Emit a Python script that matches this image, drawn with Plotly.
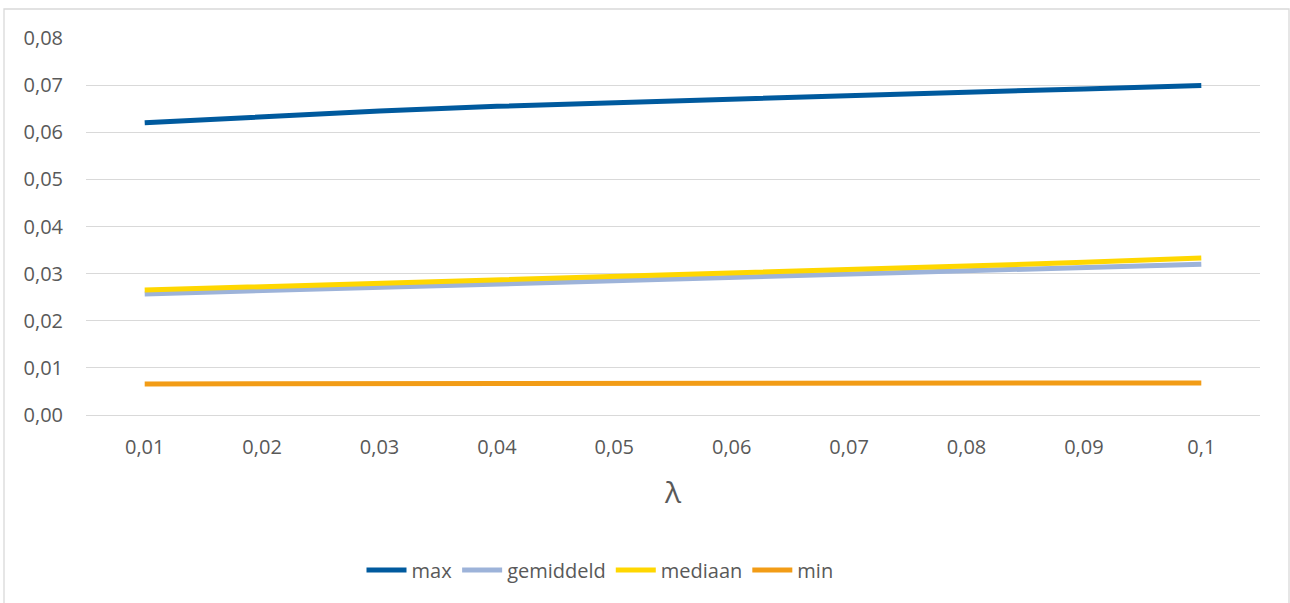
import plotly.graph_objects as go

# lambda values on the category axis
lambda_labels = ["0,01", "0,02", "0,03", "0,04", "0,05", "0,06", "0,07", "0,08", "0,09", "0,1"]

max_vals = [0.0620, 0.0633, 0.0645, 0.0655, 0.0663, 0.0671, 0.0678, 0.0685, 0.0692, 0.0699]
gemiddeld_vals = [0.0257, 0.0264, 0.0271, 0.0278, 0.0285, 0.0292, 0.0299, 0.0306, 0.0313, 0.0320]
mediaan_vals = [0.0265, 0.0272, 0.0279, 0.0287, 0.0294, 0.0301, 0.0309, 0.0316, 0.0324, 0.0333]
min_vals = [0.0066, 0.0066, 0.0066, 0.0067, 0.0067, 0.0067, 0.0067, 0.0067, 0.0068, 0.0068]

y_ticks = [0.00, 0.01, 0.02, 0.03, 0.04, 0.05, 0.06, 0.07, 0.08]
y_ticktext = ["0,00", "0,01", "0,02", "0,03", "0,04", "0,05", "0,06", "0,07", "0,08"]

series = [
    ("max", max_vals, "#005A9E"),
    ("gemiddeld", gemiddeld_vals, "#9DB3D9"),
    ("mediaan", mediaan_vals, "#FFD700"),
    ("min", min_vals, "#F29C16"),
]

FONT = "Open Sans"
TXT = "#595959"

fig = go.Figure()
for name, vals, color in series:
    fig.add_trace(go.Scatter(
        x=lambda_labels, y=vals, name=name, mode="lines",
        line=dict(color=color, width=5),
    ))

W, H = 1290, 603
L, R, T, B = 86, 30, 38, 188
pw, ph = W - L - R, H - T - B


def px_x(p):
    return (p - L) / pw


def px_y(p):
    return (H - B - p) / ph


fig.update_layout(
    width=W, height=H,
    margin=dict(l=L, r=R, t=T, b=B),
    paper_bgcolor="white", plot_bgcolor="white",
    font=dict(family=FONT, color=TXT, size=20),
    showlegend=True,
    legend=dict(
        orientation="h", x=px_x(600), xanchor="center",
        y=px_y(570), yanchor="middle",
        font=dict(size=20, color=TXT, family=FONT),
        itemwidth=40, tracegroupgap=0,
    ),
    xaxis=dict(
        type="category", range=[-0.5, 9.5],
        showgrid=False, showline=False, zeroline=False,
        ticks="", ticklabelstandoff=18, tickfont=dict(size=20, color=TXT),
        title=dict(text="λ", font=dict(size=30, color=TXT), standoff=22),
    ),
    yaxis=dict(
        range=[0, 0.08], tickvals=y_ticks, ticktext=y_ticktext,
        showgrid=True, gridcolor="#D9D9D9", gridwidth=1.3,
        zeroline=True, zerolinecolor="#D9D9D9", zerolinewidth=1.3,
        showline=False, ticks="", ticklabelstandoff=22,
        tickfont=dict(size=20, color=TXT),
    ),
    shapes=[dict(
        type="rect", xref="paper", yref="paper",
        x0=px_x(4), x1=px_x(1289), y0=px_y(608), y1=px_y(9),
        line=dict(color="#D9D9D9", width=1.3), fillcolor="rgba(0,0,0,0)",
        layer="below",
    )],
)

fig.write_html("out.html")
